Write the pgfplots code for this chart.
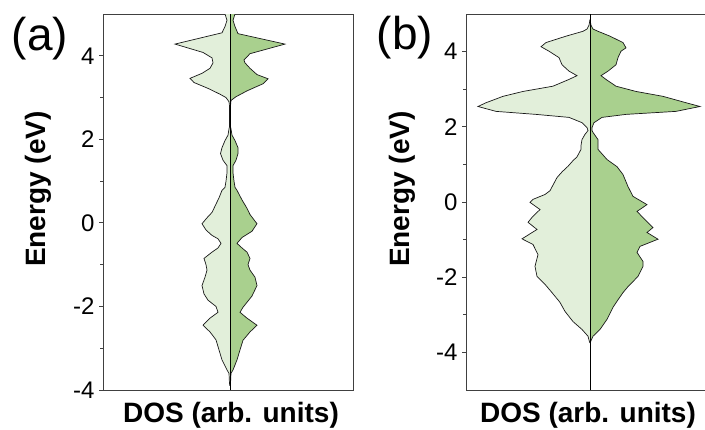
\documentclass[border=0pt]{standalone}
\usepackage{pgfplots}
\pgfplotsset{compat=1.18}
\usepackage{fontspec}
\setmainfont{Liberation Sans}
\definecolor{upc}{HTML}{E2EFDA}
\definecolor{dnc}{HTML}{A9D08E}
\definecolor{axc}{HTML}{404040}
\pgfplotsset{dosax/.style={
  scale only axis, height=376pt, anchor=south west,
  axis line style={axc, line width=0.8pt},
  xtick=\empty, ytick={-4,-2,...,4}, minor ytick={-3,-1,1,3},
  tick align=outside, major tick length=4pt, minor tick length=3pt,
  ytick pos=left,
  every tick/.style={axc, line width=0.8pt},
  yticklabel style={font=\fontsize{24}{24}\selectfont, xshift=-1pt},
  /pgf/number format/assume math mode=true,
  clip=true,
}}
\tikzset{outl/.style={draw=black!90, line width=0.7pt}}
\begin{document}
\begin{tikzpicture}
\useasboundingbox (0,0) rectangle (705pt,429pt);
% ---------------- panel (a)
\begin{axis}[dosax, at={(103pt,39pt)}, width=250pt, xmin=-127, xmax=123, ymin=-4, ymax=5]
\addplot[outl, fill=upc] coordinates {
(0,5.1) (-5,5.1) (-5,5.0) (-3,4.85) (-5,4.7) (-8,4.55) (-55,4.28) (-27,4.08) (-18,3.95)
(-17,3.83) (-20,3.7) (-28,3.58) (-40,3.46) (-36,3.36) (-22,3.22) (-10,3.08) (-4,3.0)
(-1,2.9) (-0.5,2.8) (-0.5,2.3) (-1,2.25) (-2,2.1) (-5,1.97) (-8,1.8) (-9.5,1.66) (-7,1.5)
(-3,1.37) (-3,1.2) (-4,1.0) (-5,0.85) (-8,0.78) (-11,0.6) (-13,0.5) (-15,0.4) (-18,0.25)
(-22,0.15) (-28,-0.02) (-24,-0.17) (-18,-0.3) (-12,-0.38) (-9,-0.49) (-12,-0.6) (-18,-0.7)
(-26,-0.85) (-24,-1.0) (-23,-1.13) (-25,-1.3) (-28,-1.5) (-26,-1.7) (-22,-1.85) (-14,-2.0)
(-12,-2.14) (-20,-2.28) (-27,-2.45) (-20,-2.61) (-14,-2.8) (-11,-3.04) (-8,-3.28) (-3,-3.52)
(-1,-3.6) (-0.5,-3.85) (0,-3.9)};
\addplot[outl, fill=dnc] coordinates {
(0,5.1) (5,5.1) (5,5.0) (3,4.85) (5,4.7) (8,4.53) (55,4.28) (20,4.05) (14,3.9) (15,3.83)
(20,3.7) (27,3.55) (38,3.45) (33,3.33) (17,3.16) (6,3.02) (1,2.93) (0.5,2.8) (0.5,2.3)
(1,2.25) (2,2.1) (5,1.97) (8,1.8) (8,1.66) (6,1.5) (3,1.37) (3,1.2) (4,1.0) (5,0.85)
(7,0.78) (12,0.55) (17,0.35) (20,0.2) (27,-0.02) (22,-0.2) (12,-0.35) (7,-0.49) (12,-0.6)
(17,-0.7) (20,-0.85) (18,-1.0) (20,-1.13) (25,-1.3) (27,-1.5) (22,-1.75) (13,-2.02)
(10,-2.14) (17,-2.28) (27,-2.45) (20,-2.61) (13,-2.81) (10,-3.04) (7,-3.28) (3,-3.52)
(1,-3.6) (0.5,-3.85) (0,-3.9)};
\addplot[black, line width=0.8pt] coordinates {(0,-4) (0,5)};
\end{axis}
% ---------------- panel (b)
\begin{axis}[dosax, at={(466pt,39pt)}, width=248pt, xmin=-124, xmax=124, ymin=-5, ymax=5]
\addplot[outl, fill=upc] coordinates {
(0,4.85) (-1,4.7) (-3,4.6) (-7,4.54) (-24,4.41) (-44,4.24) (-49,4.13) (-41,4.01) (-31,3.84)
(-28,3.65) (-21,3.48) (-13,3.36) (-21,3.26) (-37,3.08) (-67,2.94) (-87,2.81) (-104,2.64)
(-112,2.54) (-94,2.41) (-54,2.33) (-21,2.25) (-8,2.11) (-3,1.98) (-2,1.9) (-5,1.8) (-8,1.66)
(-9,1.5) (-9,1.4) (-13,1.2) (-17,1.1) (-22,0.95) (-28,0.8) (-33,0.65) (-36,0.5) (-40,0.3)
(-45,0.2) (-57,0.07) (-60,-0.01) (-50,-0.2) (-58,-0.41) (-62,-0.54) (-53,-0.73) (-68,-0.98)
(-57,-1.13) (-52,-1.4) (-55,-1.71) (-53,-1.98) (-45,-2.19) (-38,-2.41) (-30,-2.67)
(-25,-2.91) (-17,-3.18) (-8,-3.39) (-2,-3.57) (-0.5,-3.72) (0,-3.75)};
\addplot[outl, fill=dnc] coordinates {
(0,4.85) (1,4.7) (3,4.6) (8,4.54) (20,4.41) (33,4.24) (36,4.1) (31,4.01) (28,3.84) (26,3.65)
(18,3.48) (11,3.36) (16,3.26) (26,3.08) (46,2.94) (73,2.81) (96,2.64) (110,2.54) (86,2.41)
(36,2.33) (12,2.25) (4,2.11) (2,1.98) (2,1.9) (3,1.85) (8,1.66) (8,1.4) (17,1.13) (27,0.94)
(33,0.73) (38,0.41) (43,0.15) (57,-0.07) (47,-0.25) (55,-0.47) (63,-0.68) (57,-0.81)
(68,-0.99) (50,-1.18) (47,-1.34) (53,-1.58) (53,-1.71) (48,-1.98) (38,-2.25) (33,-2.41)
(27,-2.64) (23,-2.80) (17,-3.12) (10,-3.39) (3,-3.57) (0.5,-3.72) (0,-3.75)};
\addplot[black, line width=0.8pt] coordinates {(0,-5) (0,5)};
\end{axis}
% ---------------- labels
\node[font=\fontsize{46}{46}\selectfont] at (40pt,390pt) {(a)};
\node[font=\fontsize{46}{46}\selectfont] at (405pt,391pt) {(b)};
\node[font=\bfseries\fontsize{28}{28}\selectfont, anchor=base] at (231pt,6pt) {DOS (arb. units)};
\node[font=\bfseries\fontsize{28}{28}\selectfont, anchor=base] at (588pt,6pt) {DOS (arb. units)};
\node[font=\bfseries\fontsize{28}{28}\selectfont, rotate=90, anchor=base] at (46pt,240pt) {Energy (eV)};
\node[font=\bfseries\fontsize{28}{28}\selectfont, rotate=90, anchor=base] at (409pt,240pt) {Energy (eV)};
\end{tikzpicture}
\end{document}
